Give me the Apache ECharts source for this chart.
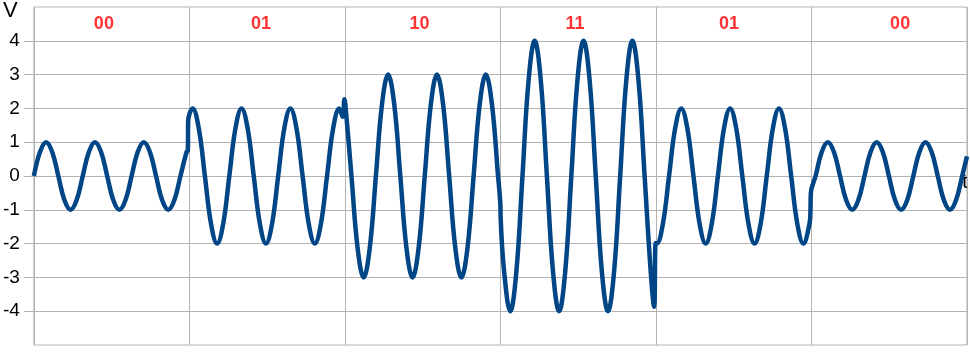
<!DOCTYPE html>
<html>
<head>
<meta charset="utf-8">
<script src="https://cdn.jsdelivr.net/npm/echarts@6/dist/echarts.min.js"></script>
<style>
  html, body { margin: 0; padding: 0; background: #fff; }
  #chart { width: 970px; height: 353px; }
</style>
</head>
<body>
<div id="chart"></div>
<script>
// bits sent in each symbol period, and where their labels sit (in symbol periods)
var bitLabels = ['00', '01', '10', '11', '01', '00'];
var bitLabelT = [0.45, 1.46, 2.48, 3.48, 4.47, 5.57];
var bitLabelV = 4.5;

// time between two samples of the curve (symbol period = 1)
var sampleStep = 0.03927;

// sample values, one symbol per line
var waveValues = [
  0, 0.71, 1, 0.71, 0, -0.71, -1, -0.71, 0, 0.71, 1, 0.71, 0, -0.71, -1, -0.71, 0, 0.71, 1, 0.71, 0, -0.71, -1, -0.71, 0, 0.71,
  2, 1.41, 0, -1.41, -2, -1.41, 0, 1.41, 2, 1.41, 0, -1.41, -2, -1.41, 0, 1.41, 2, 1.41, 0, -1.41, -2, -1.41, 0, 1.41, 2,
  2.12, 0, -2.12, -3, -2.12, 0, 2.12, 3, 2.12, 0, -2.12, -3, -2.12, 0, 2.12, 3, 2.12, 0, -2.12, -3, -2.12, 0, 2.12, 3, 2.12, 0,
  -2.83, -4, -2.83, 0, 2.83, 4, 2.83, 0, -2.83, -4, -2.83, 0, 2.83, 4, 2.83, 0, -2.83, -4, -2.83, 0, 2.83, 4, 2.83, 0, -2.83,
  -2, -1.41, 0, 1.41, 2, 1.41, 0, -1.41, -2, -1.41, 0, 1.41, 2, 1.41, 0, -1.41, -2, -1.41, 0, 1.41, 2, 1.41, 0, -1.41, -2, -1.41,
  0, 0.71, 1, 0.71, 0, -0.71, -1, -0.71, 0, 0.71, 1, 0.71, 0, -0.71, -1, -0.71, 0, 0.71, 1, 0.71, 0, -0.71, -1, -0.71, 0
];

// the jumps where the amplitude changes, plus the last point, as [t, v]
var jumpPoints = [
  [0.99, 0.75], [0.992, 1.63],
  [1.985, 1.75], [1.997, 2.27],
  [3, -0.9], [3.001, -1.2],
  [3.988, -3.87], [3.998, -1.98],
  [4.993, -1.1], [4.996, -0.5],
  [6, 0.58]
];

var yTicks = [-4, -3, -2, -1, 0, 1, 2, 3, 4];

var gridColor = '#b3b3b3';
var font = 'Liberation Sans, Arial, sans-serif';

function buildWave() {
  var data = [];
  var j = 0;
  for (var i = 0; i < waveValues.length; i++) {
    var t = i * sampleStep;
    while (j < jumpPoints.length && jumpPoints[j][0] < t) {
      data.push(jumpPoints[j]);
      j++;
    }
    data.push([t, waveValues[i]]);
  }
  while (j < jumpPoints.length) {
    data.push(jumpPoints[j]);
    j++;
  }
  return data;
}

var chart = echarts.init(document.getElementById('chart'));

var option = {
  animation: false,
  grid: {
    left: 32,
    right: 3,
    top: 7,
    bottom: 8,
    show: true,
    borderColor: gridColor,
    borderWidth: 1
  },
  xAxis: {
    type: 'value',
    min: 0,
    max: 6,
    interval: 1,
    axisLine: { show: false },
    axisTick: { show: false },
    axisLabel: { show: false },
    splitLine: {
      show: true,
      lineStyle: { color: gridColor, width: 1 }
    }
  },
  yAxis: {
    type: 'value',
    min: -5,
    max: 5,
    interval: 1,
    axisLine: {
      show: true,
      lineStyle: { color: gridColor, width: 1 }
    },
    axisTick: {
      show: true,
      length: 10,
      customValues: yTicks,
      lineStyle: { color: gridColor, width: 1 }
    },
    axisLabel: {
      customValues: yTicks,
      color: '#000',
      fontSize: 19,
      fontFamily: font,
      margin: 14
    },
    splitLine: {
      show: true,
      lineStyle: { color: gridColor, width: 1 }
    }
  },
  graphic: [
    {
      type: 'text',
      left: 3,
      top: 0,
      style: { text: 'V', fontSize: 22, fontFamily: font, fill: '#000' }
    },
    {
      type: 'text',
      left: 962,
      top: 172,
      style: { text: 't', fontSize: 21, fontFamily: font, fill: '#000' }
    }
  ],
  series: [
    {
      type: 'line',
      data: buildWave(),
      smooth: 0.4,
      showSymbol: false,
      lineStyle: { color: '#004586', width: 4.5 }
    },
    {
      // bit labels above each symbol
      type: 'scatter',
      symbolSize: 0,
      data: bitLabels.map(function (b, i) { return [bitLabelT[i], bitLabelV, b]; }),
      label: {
        show: true,
        position: 'inside',
        formatter: function (p) { return p.data[2]; },
        color: '#ff0000',
        fontSize: 18,
        fontWeight: 'bold',
        fontFamily: font
      }
    }
  ]
};

chart.setOption(option);
</script>
</body>
</html>
